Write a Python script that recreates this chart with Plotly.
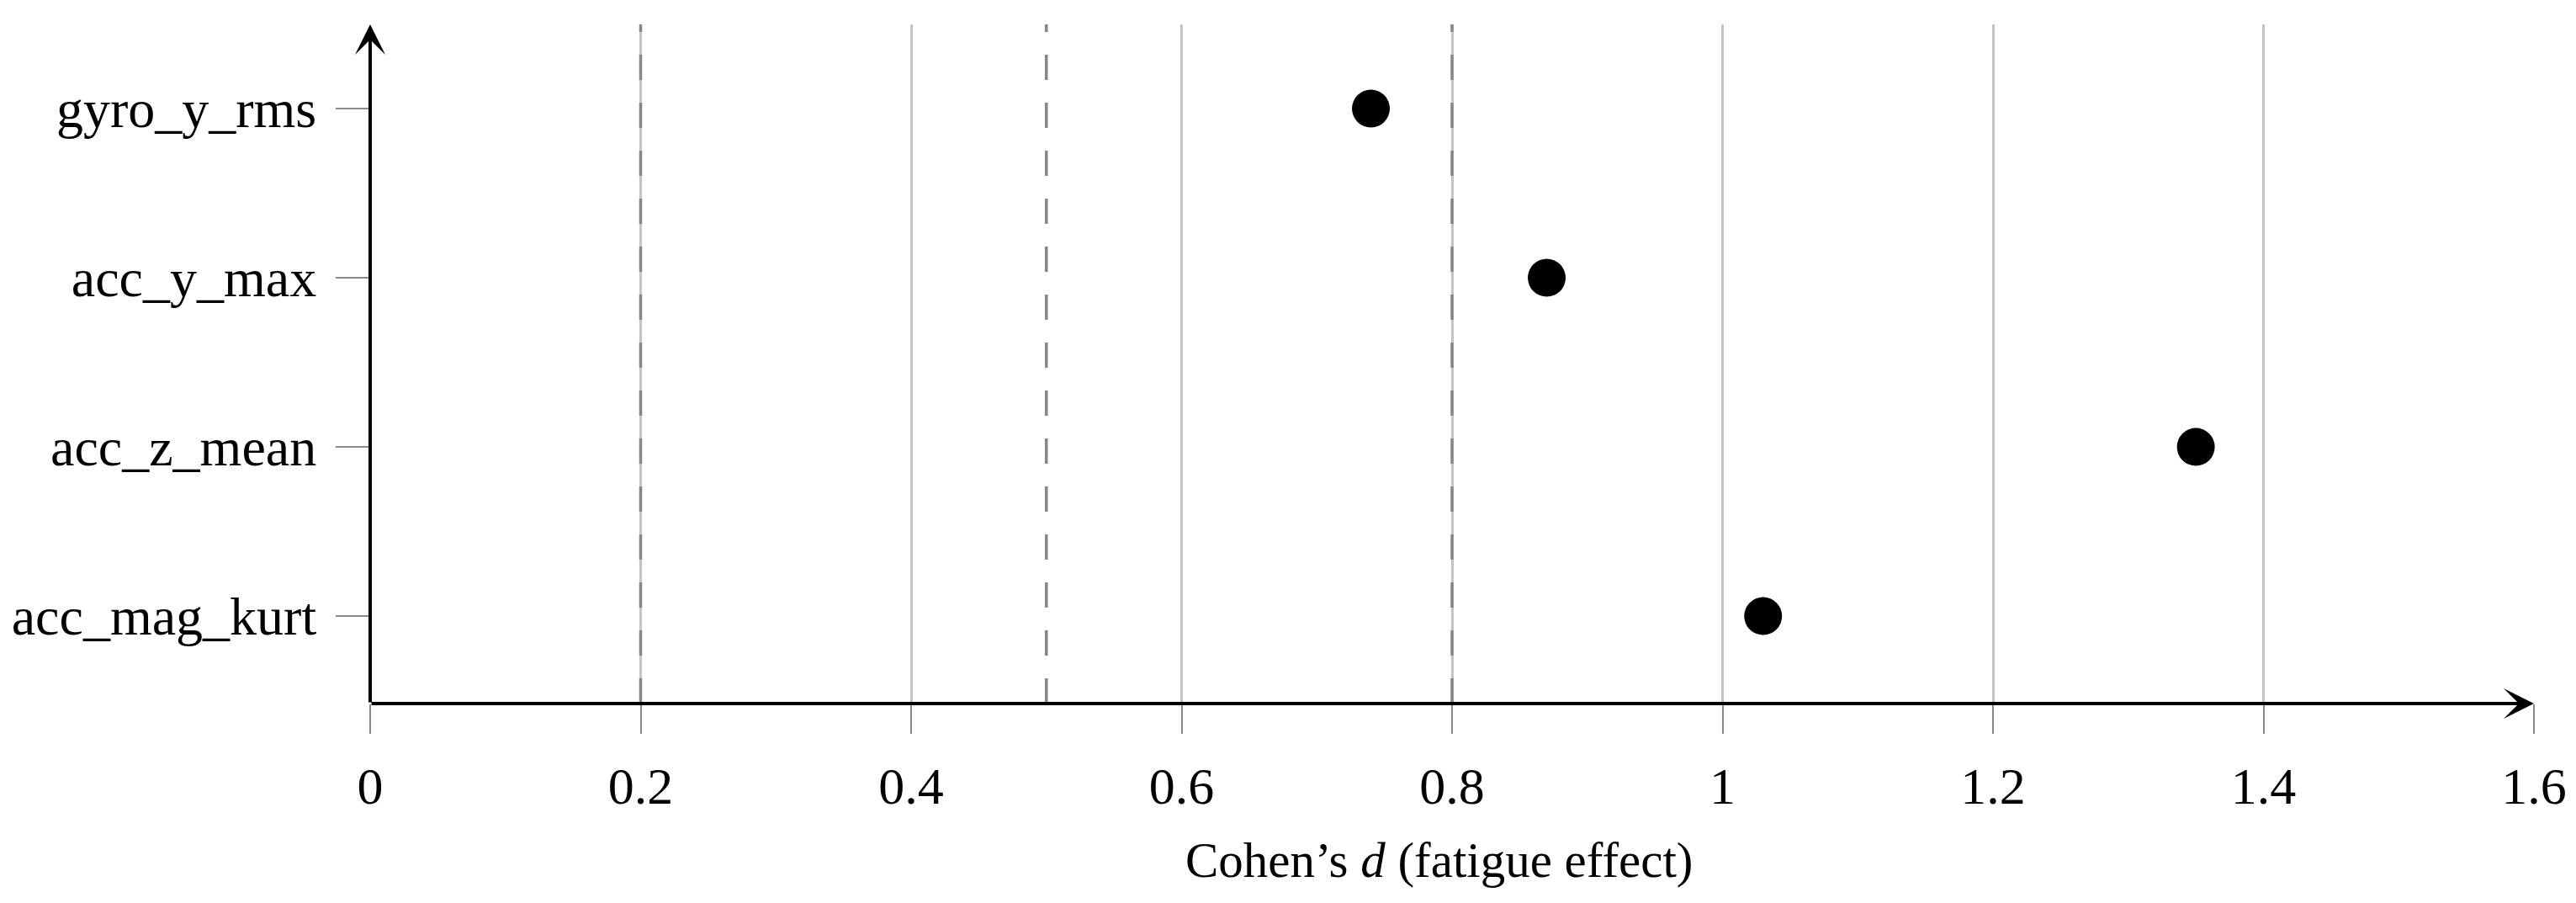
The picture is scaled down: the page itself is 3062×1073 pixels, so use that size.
import plotly.graph_objects as go

features = ["gyro_y_rms", "acc_y_max", "acc_z_mean", "acc_mag_kurt"]
cohens_d = [0.74, 0.87, 1.35, 1.03]
y_pos = [3, 2, 1, 0]
x_ticks = [0, 0.2, 0.4, 0.6, 0.8, 1.0, 1.2, 1.4, 1.6]
x_tick_labels = ["0", "0.2", "0.4", "0.6", "0.8", "1", "1.2", "1.4", "1.6"]
thresholds = [0.2, 0.5, 0.8]

X_RANGE = [0, 1.6]
Y_RANGE = [-0.517, 3.4975]
FONT = "Liberation Serif"

fig = go.Figure()
fig.add_trace(go.Scatter(
    x=cohens_d, y=y_pos, mode="markers",
    marker=dict(color="black", size=45, line=dict(width=0)),
    showlegend=False, hoverinfo="x+y",
))

for t in thresholds:
    fig.add_shape(type="line", xref="x", yref="paper", x0=t, x1=t, y0=0, y1=1,
                  line=dict(color="#878787", width=3.5, dash="30px,27px"), layer="above")

# axis arrows
fig.add_annotation(x=X_RANGE[1], y=Y_RANGE[0], ax=X_RANGE[0], ay=Y_RANGE[0],
                   xref="x", yref="y", axref="x", ayref="y", text="",
                   showarrow=True, arrowhead=3, arrowsize=1.5, arrowwidth=4,
                   arrowcolor="black", standoff=0, startstandoff=0)
fig.add_annotation(x=X_RANGE[0], y=Y_RANGE[1], ax=X_RANGE[0], ay=Y_RANGE[0],
                   xref="x", yref="y", axref="x", ayref="y", text="",
                   showarrow=True, arrowhead=3, arrowsize=1.5, arrowwidth=4,
                   arrowcolor="black", standoff=0, startstandoff=0)

# x-axis title
fig.add_annotation(x=0.494, y=0, xref="paper", yref="paper", xanchor="center", yanchor="middle",
                   yshift=-186, showarrow=False,
                   text="Cohen’s <i>d</i> (fatigue effect)",
                   font=dict(family=FONT, size=59, color="black"))

fig.update_layout(
    width=3046, height=1057,
    margin=dict(l=432, r=42, t=21, b=229, autoexpand=False),
    plot_bgcolor="white", paper_bgcolor="white",
    font=dict(family=FONT, size=62, color="black"),
    xaxis=dict(
        range=X_RANGE, tickvals=x_ticks, ticktext=x_tick_labels,
        showgrid=True, gridcolor="#c4c4c4", gridwidth=3,
        zeroline=False, showline=False, automargin=False,
        ticks="outside", ticklen=35, tickwidth=2, tickcolor="#888888",
        tickfont=dict(family=FONT, size=62, color="black"),
        ticklabelstandoff=9,
    ),
    yaxis=dict(
        range=Y_RANGE, tickvals=y_pos, ticktext=features,
        showgrid=False, zeroline=False, showline=False, automargin=False,
        ticks="outside", ticklen=40, tickwidth=2, tickcolor="#888888",
        tickfont=dict(family=FONT, size=64, color="black"),
        ticklabelstandoff=10,
    ),
)

fig.write_html("out.html")
